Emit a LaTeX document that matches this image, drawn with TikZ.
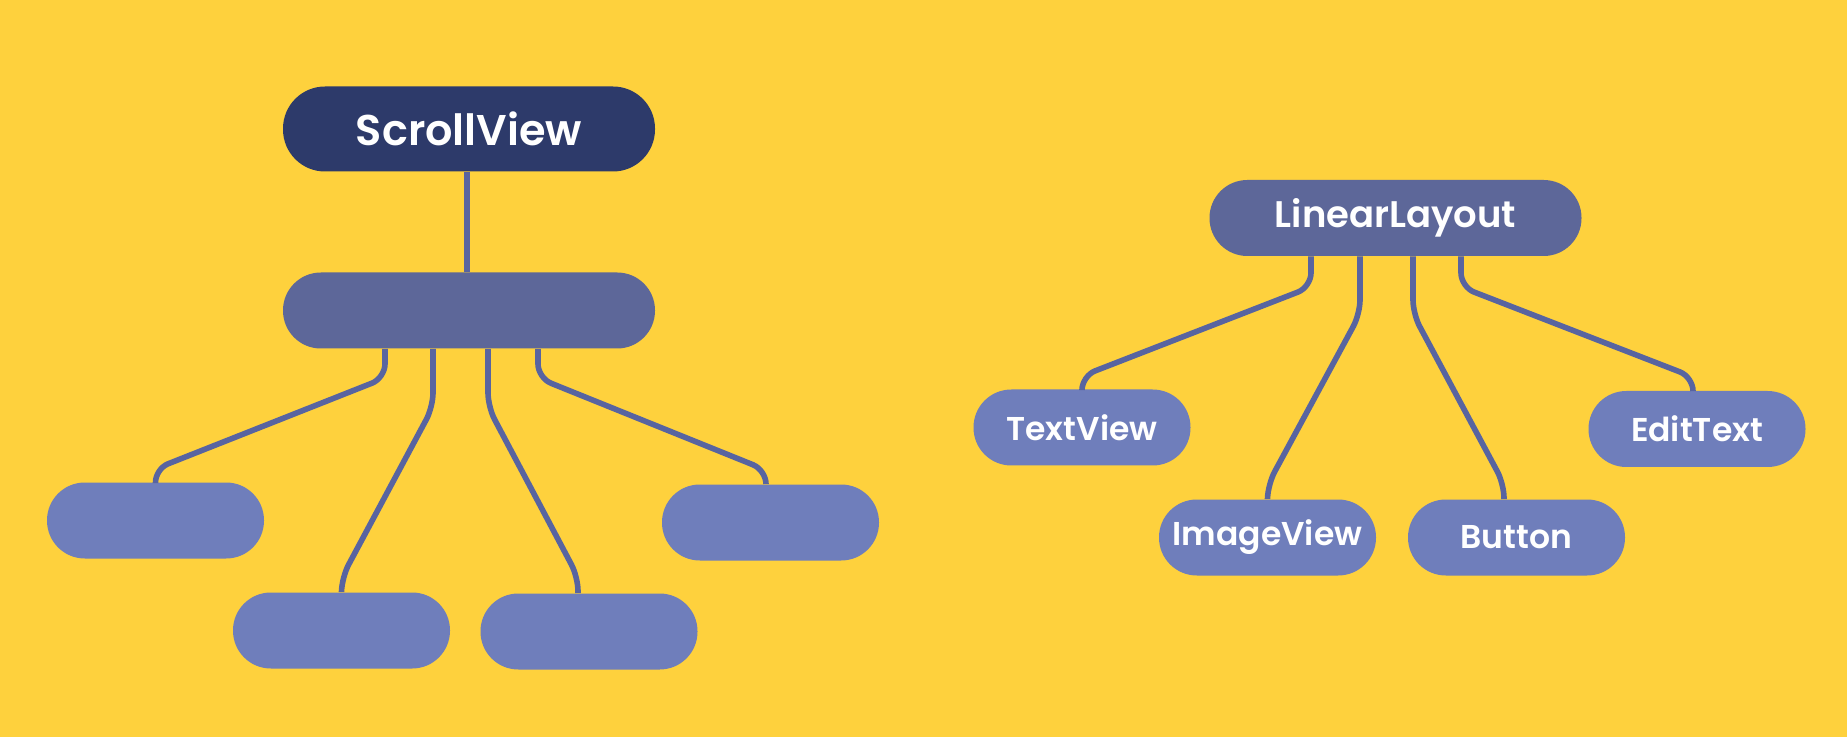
\documentclass[tikz,border=0pt]{standalone}
\usepackage{fontspec}
\setmainfont{Poppins}[UprightFont=* SemiBold]
\usepackage{tikz}
\usetikzlibrary{calc}

\definecolor{bgyellow}{HTML}{FED13D}
\definecolor{navy}{HTML}{2D3A6A}
\definecolor{slate}{HTML}{5D6799}
\definecolor{periwinkle}{HTML}{6F7EBB}
\definecolor{wire}{HTML}{5864A0}

\tikzset{
    rootbox/.style={rectangle, fill=navy, text=white, inner sep=0pt,
        minimum width=186pt, minimum height=42.5pt, rounded corners=21pt,
        font=\fontsize{21.5}{26}\selectfont},
    parentbox/.style={rectangle, fill=slate, text=white, inner sep=0pt,
        minimum width=186pt, minimum height=38pt, rounded corners=18.9pt,
        font=\fontsize{18.5}{23}\selectfont},
    childbox/.style={rectangle, fill=periwinkle, text=white, inner sep=0pt,
        minimum width=108.5pt, minimum height=38pt, rounded corners=18.9pt,
        font=\fontsize{16.5}{20}\selectfont},
    link/.style={draw=wire, line width=2.8pt, rounded corners=7pt}
}

\begin{document}
\begin{tikzpicture}[x=0.5pt, y=-0.5pt]
    \fill[bgyellow] (0,0) rectangle (1847,737);
    \useasboundingbox (0,0) rectangle (1847,737);

    % left tree
    \path
        (469, 129) node[rootbox] (scroll){ScrollView}
        (469, 310.5) node[parentbox] (bar){}
        (155.5, 520.5) node[childbox] (c1){}
        (341.5, 630.5) node[childbox] (c2){}
        (589, 631.5) node[childbox] (c3){}
        (770.5, 522.5) node[childbox] (c4){};

    % right tree
    \path
        (1395.5, 218) node[parentbox] (linear){LinearLayout}
        (1082, 427.5) node[childbox] (text){TextView}
        (1267.5, 537.5) node[childbox] (image){ImageView}
        (1516.5, 537.5) node[childbox] (button){Button}
        (1697, 429) node[childbox] (edit){EditText};

    \begin{scope}[link]
        \draw ($(scroll.south)+(-2,0)$) -- ($(bar.north)+(-2,0)$);
        \draw ($(bar.south)+(-84,0)$) -- (385, 378) -- (155, 469) -- (c1.north);
        \draw ($(bar.south)+(-36,0)$) -- (433, 407) -- (342, 577) -- (c2.north);
        \draw ($(bar.south)+(19,0)$) -- (488, 407) -- (578, 577) -- ($(c3.north)+(-11,0)$);
        \draw ($(bar.south)+(69,0)$) -- (538, 378) -- (766, 470) -- ($(c4.north)+(-4.5,0)$);

        \draw ($(linear.south)+(-84.5,0)$) -- (1311, 287) -- (1082, 376) -- (text.north);
        \draw ($(linear.south)+(-35.5,0)$) -- (1360, 314) -- (1268, 484) -- (image.north);
        \draw ($(linear.south)+(17.5,0)$) -- (1413, 314) -- (1504, 484) -- ($(button.north)+(-12.5,0)$);
        \draw ($(linear.south)+(65.5,0)$) -- (1461, 287) -- (1693, 377) -- ($(edit.north)+(-4,0)$);
    \end{scope}
\end{tikzpicture}
\end{document}
